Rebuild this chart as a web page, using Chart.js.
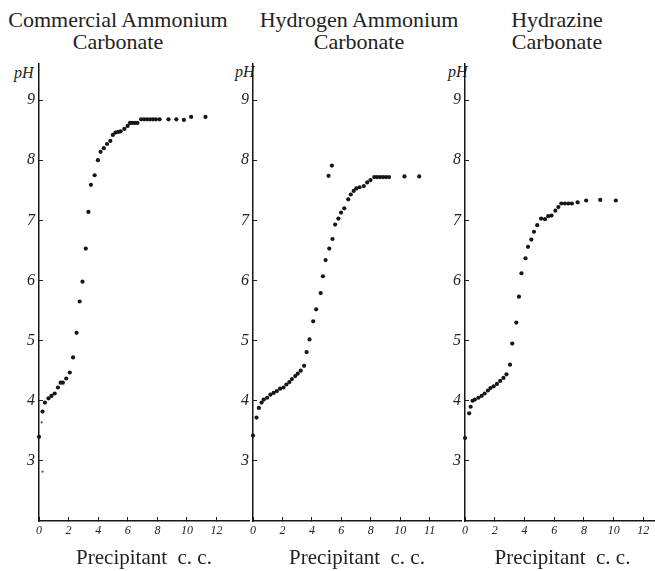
<!DOCTYPE html>
<html>
<head>
<meta charset="utf-8">
<script src="https://cdn.jsdelivr.net/npm/chart.js@4.4.0/dist/chart.umd.min.js"></script>
<style>
html,body{margin:0;padding:0;background:#fff;}
#wrap{position:relative;width:655px;height:571px;overflow:hidden;background:#fff;}
canvas{position:absolute;top:0;}
.t{position:absolute;width:300px;font-family:"Liberation Serif",serif;font-size:22px;line-height:22px;color:#222;text-align:center;white-space:nowrap;}
.ph{position:absolute;font-family:"Liberation Serif",serif;font-style:italic;font-size:16px;line-height:16px;color:#222;}
</style>
</head>
<body>
<div id="wrap">
  <div class="t" id="t1" style="left:-32px;top:9px;"></div>
  <div class="t" id="t2" style="left:209px;top:9px;"></div>
  <div class="t" id="t3" style="left:407px;top:9px;"></div>
  <div class="ph" style="left:14px;top:65px;">pH</div>
  <div class="ph" style="left:235px;top:64px;">pH</div>
  <div class="ph" style="left:448px;top:64px;">pH</div>
  <canvas id="c1" width="253" height="571" style="left:0px;width:253px;height:571px;"></canvas>
  <canvas id="c2" width="253" height="571" style="left:212px;width:253px;height:571px;"></canvas>
  <canvas id="c3" width="240" height="571" style="left:424px;width:240px;height:571px;"></canvas>
</div>
<script>
// ---- text ----
const panelTitles = [
  ["Commercial Ammonium", "Carbonate"],
  ["Hydrogen Ammonium", "Carbonate"],
  ["Hydrazine", "Carbonate"]
];
const xAxisTitle = "Precipitant  c. c.";

// ---- ticks ----
const yTicks = [3, 4, 5, 6, 7, 8, 9];
const xTicks = [0, 2, 4, 6, 8, 10, 12];
const xTickLabels1 = ["0", "2", "4", "6", "8", "10", "12"];
const xTickLabels2 = ["0", "2", "4", "6", "8", "10", "11"];
const xTickLabels3 = ["0", "2", "4", "6", "8", "10", "12"];

// ---- Commercial Ammonium Carbonate (c.c., pH) ----
const p1X = [0, 0.24, 0.40, 0.64, 0.84, 1.06, 1.28, 1.46, 1.61, 1.84, 2.08, 2.30, 2.54, 2.75, 2.94, 3.16, 3.34, 3.51, 3.76, 3.98,
             4.16, 4.38, 4.60, 4.82, 4.99, 5.17, 5.35, 5.52, 5.77, 5.99, 6.15, 6.30, 6.48, 6.65, 6.90, 7.10, 7.30, 7.50, 7.70, 7.90,
             8.15, 8.75, 9.28, 9.79, 10.28, 11.25];
const p1Y = [3.40, 3.82, 3.97, 4.04, 4.08, 4.12, 4.22, 4.30, 4.30, 4.37, 4.47, 4.72, 5.13, 5.65, 5.98, 6.53, 7.14, 7.59, 7.75, 8.00,
             8.14, 8.20, 8.27, 8.32, 8.42, 8.46, 8.47, 8.48, 8.52, 8.57, 8.62, 8.62, 8.62, 8.62, 8.68, 8.68, 8.68, 8.68, 8.68, 8.68,
             8.68, 8.68, 8.68, 8.67, 8.72, 8.72];
const p1FaintX = [0.18, 0.24];
const p1FaintY = [3.64, 2.82];

// ---- Hydrogen Ammonium Carbonate ----
const p2X = [0, 0.24, 0.40, 0.58, 0.73, 0.96, 1.18, 1.40, 1.62, 1.84, 2.07, 2.27, 2.47, 2.64, 2.87, 3.04, 3.24, 3.47, 3.64, 3.84,
             4.09, 4.29, 4.60, 4.75, 4.93, 5.18, 5.40, 5.58, 5.80, 5.98, 6.20, 6.47, 6.64, 6.84, 7.02, 7.24, 7.53, 7.76, 7.98,
             8.24, 8.44, 8.64, 8.84, 9.04, 9.24, 10.29, 11.29, 5.13, 5.36];
const p2Y = [3.42, 3.72, 3.88, 3.97, 4.02, 4.05, 4.10, 4.13, 4.16, 4.20, 4.22, 4.27, 4.31, 4.36, 4.41, 4.45, 4.50, 4.58, 4.81, 5.02,
             5.32, 5.52, 5.79, 6.07, 6.34, 6.53, 6.69, 6.93, 7.03, 7.13, 7.20, 7.35, 7.43, 7.49, 7.53, 7.55, 7.57, 7.63, 7.67,
             7.72, 7.72, 7.72, 7.72, 7.72, 7.72, 7.73, 7.73, 7.74, 7.91];

// ---- Hydrazine Carbonate ----
const p3X = [0, 0.28, 0.38, 0.51, 0.66, 0.90, 1.12, 1.32, 1.54, 1.71, 1.93, 2.15, 2.37, 2.59, 2.79, 3.03, 3.18, 3.45, 3.63, 3.80,
             4.07, 4.24, 4.46, 4.64, 4.86, 5.12, 5.38, 5.60, 5.82, 6.08, 6.28, 6.48, 6.72, 6.95, 7.19, 7.58, 8.15, 9.10, 10.15];
const p3Y = [3.38, 3.79, 3.90, 4.00, 4.02, 4.05, 4.08, 4.12, 4.17, 4.21, 4.24, 4.28, 4.33, 4.38, 4.44, 4.60, 4.95, 5.30, 5.73, 6.12,
             6.37, 6.56, 6.68, 6.81, 6.92, 7.03, 7.02, 7.07, 7.08, 7.16, 7.22, 7.28, 7.28, 7.28, 7.28, 7.30, 7.33, 7.34, 7.33];

// ---- titles ----
["t1", "t2", "t3"].forEach((id, i) => {
  document.getElementById(id).innerHTML = panelTitles[i].join("<br>");
});

const INK = "#161616";
const TEXT = "#222";

function pts(xs, ys) { return xs.map((x, i) => ({ x: x, y: ys[i] })); }

function makeChart(canvasId, xs, ys, fx, fy, xLabels, yAxisWidth, xMax) {
  const datasets = [{
    data: pts(xs, ys),
    showLine: false,
    pointRadius: 2.1,
    pointBackgroundColor: INK,
    pointBorderWidth: 0,
    clip: false
  }];
  if (fx) {
    datasets.push({
      data: pts(fx, fy),
      showLine: false,
      pointRadius: 1.1,
      pointBackgroundColor: "#555",
      pointBorderWidth: 0,
      clip: false
    });
  }
  return new Chart(document.getElementById(canvasId), {
    type: "scatter",
    data: { datasets: datasets },
    options: {
      responsive: false,
      animation: false,
      devicePixelRatio: 1,
      layout: { padding: { top: 64, left: 0, right: 0, bottom: 0 } },
      plugins: { legend: { display: false }, tooltip: { enabled: false }, title: { display: false } },
      scales: {
        x: {
          type: "linear",
          bounds: "data",
          min: 0,
          max: xMax,
          afterBuildTicks: s => { s.ticks = xTicks.map(v => ({ value: v })); },
          afterFit: s => { s.height = 50; },
          ticks: {
            autoSkip: false, maxRotation: 0, padding: 7, color: TEXT,
            font: { family: "Liberation Serif", style: "italic", size: 12 },
            callback: (v, i) => xLabels[i]
          },
          grid: { drawOnChartArea: false, drawTicks: true, tickLength: -4, color: TEXT, lineWidth: 1 },
          border: { display: true, color: INK, width: 1.5 },
          title: {
            display: true, text: xAxisTitle, color: TEXT,
            font: { family: "Liberation Serif", size: 21, style: "normal" },
            padding: { top: 0, bottom: 0 }
          }
        },
        y: {
          type: "linear",
          bounds: "data",
          min: 2,
          max: 9.6,
          afterBuildTicks: s => { s.ticks = yTicks.map(v => ({ value: v })); },
          afterFit: s => { s.width = yAxisWidth; },
          ticks: {
            padding: 8, color: TEXT,
            font: { family: "Liberation Serif", style: "italic", size: 16 },
            callback: v => String(v)
          },
          grid: { drawOnChartArea: false, drawTicks: true, tickLength: -4, color: TEXT, lineWidth: 1 },
          border: { display: true, color: INK, width: 1.5 }
        }
      }
    }
  });
}

makeChart("c1", p1X, p1Y, p1FaintX, p1FaintY, xTickLabels1, 39, 14.19);
makeChart("c2", p2X, p2Y, null, null, xTickLabels2, 41, 14.13);
makeChart("c3", p3X, p3Y, null, null, xTickLabels3, 41, 13.12);
</script>
</body>
</html>
